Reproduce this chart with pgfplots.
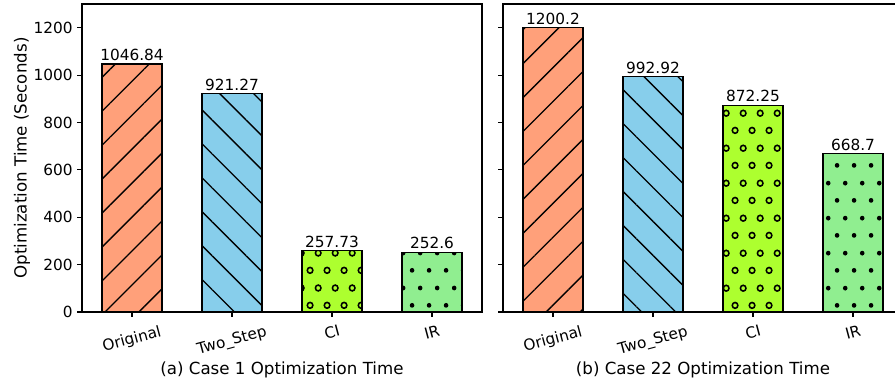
\documentclass[border=0pt]{standalone}
\usepackage{fontspec}
\setmainfont{DejaVu Sans}
\usepackage{graphicx}
\usepackage{pgfplots}
\pgfplotsset{compat=1.18}
\usetikzlibrary{patterns.meta}

\definecolor{csal}{HTML}{FFA07A}
\definecolor{csky}{HTML}{87CEEB}
\definecolor{cgy}{HTML}{ADFF2F}
\definecolor{clg}{HTML}{90EE90}

\pgfdeclarepattern{
  name=ringgrid,
  type=uncolored,
  bottom left={\pgfpoint{0pt}{0pt}},
  top right={\pgfpoint{12.75pt}{26pt}},
  tile size={\pgfpoint{12.75pt}{26pt}},
  code={
    \pgfsetlinewidth{1.2pt}
    \pgfpathcircle{\pgfpoint{3.2pt}{6.5pt}}{2.2pt}
    \pgfusepath{stroke}
    \pgfpathcircle{\pgfpoint{9.575pt}{19.5pt}}{2.2pt}
    \pgfusepath{stroke}
  }
}
\pgfdeclarepattern{
  name=dotgrid,
  type=uncolored,
  bottom left={\pgfpoint{0pt}{0pt}},
  top right={\pgfpoint{12.75pt}{26pt}},
  tile size={\pgfpoint{12.75pt}{26pt}},
  code={
    \pgfpathcircle{\pgfpoint{3.2pt}{6.5pt}}{1.8pt}
    \pgfpathcircle{\pgfpoint{9.575pt}{19.5pt}}{1.8pt}
    \pgfusepath{fill}
  }
}

\pgfplotsset{
  mybars/.style={
    scale only axis, width=300pt, height=231pt,
    ybar, bar width=0.6, bar shift=0pt,
    xmin=-0.5, xmax=3.5, ymin=0, ymax=1300,
    xtick={0,1,2,3},
    xticklabels={\rotatebox{15}{Original}, \rotatebox{15}{Two\_Step}, \rotatebox{15}{CI}, \rotatebox{15}{IR}},
    ytick={0,200,...,1200},
    tick pos=left, tick align=outside, major tick length=3.5pt,
    every tick/.style={black, line width=0.8pt},
    axis line style={black, line width=0.8pt},
    /pgf/number format/assume math mode=true,
    /pgf/number format/1000 sep={},
    tick label style={font=\fontsize{11.5}{13}\selectfont},
    xticklabel style={anchor=north, yshift=-2.5pt},
    label style={font=\fontsize{12.5}{14}\selectfont},
    xlabel style={at={(axis description cs:0.5,-0.187)}, anchor=center},
    ylabel style={at={(axis description cs:-0.15,0.5)}, anchor=center},
    point meta=explicit symbolic,
    nodes near coords,
    every node near coord/.style={font=\fontsize{11.5}{13}\selectfont, black, inner sep=2pt},
  },
  bsal/.style={draw=black, line width=0.8pt, fill=csal, postaction={pattern={Lines[angle=45,distance=18pt,line width=1pt]}, pattern color=black}},
  bsky/.style={draw=black, line width=0.8pt, fill=csky, postaction={pattern={Lines[angle=-45,distance=18pt,line width=1pt]}, pattern color=black}},
  bgy/.style={draw=black, line width=0.8pt, fill=cgy, postaction={pattern=ringgrid, pattern color=black}},
  blg/.style={draw=black, line width=0.8pt, fill=clg, postaction={pattern=dotgrid, pattern color=black}},
}

\begin{document}
\begin{tikzpicture}
\begin{axis}[mybars, at={(0pt,0pt)}, anchor=south west,
  xlabel={(a) Case 1 Optimization Time},
  ylabel={Optimization Time (Seconds)}]
\addplot[bsal] coordinates {(0,1046.84) [1046.84]};
\addplot[bsky] coordinates {(1,921.27) [921.27]};
\addplot[bgy] coordinates {(2,257.73) [257.73]};
\addplot[blg] coordinates {(3,252.6) [252.6]};
\end{axis}
\begin{axis}[mybars, at={(315.75pt,0pt)}, anchor=south west,
  yticklabels={},
  xlabel={(b) Case 22 Optimization Time}]
\addplot[bsal] coordinates {(0,1200.2) [1200.2]};
\addplot[bsky] coordinates {(1,992.92) [992.92]};
\addplot[bgy] coordinates {(2,872.25) [872.25]};
\addplot[blg] coordinates {(3,668.7) [668.7]};
\end{axis}
\pgfresetboundingbox
\path[use as bounding box] (-61.5pt,-53.25pt) rectangle (609.75pt,234pt);
\end{tikzpicture}
\end{document}
